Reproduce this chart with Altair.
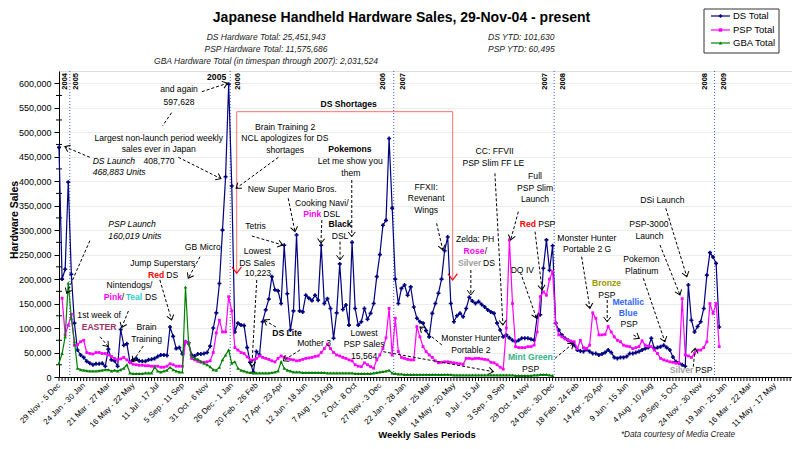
import json, math
import altair as alt
import pandas as pd

FONT = "Liberation Sans"
W, H = 733, 306
XMAX, YMAX = 237.6, 625.0

TICK_LABELS = ["29 Nov - 5 Dec", "24 Jan - 30 Jan", "21 Mar - 27 Mar", "16 May - 22 May",
               "11 Jul - 17 Jul", "5 Sep - 11 Sep", "31 Oct - 6 Nov", "26 Dec - 1 Jan",
               "20 Feb - 26 Feb", "17 Apr - 23 Apr", "12 Jun - 18 Jun", "7 Aug - 13 Aug",
               "2 Oct - 8 Oct", "27 Nov - 3 Dec", "22 Jan - 28 Jan", "19 Mar - 25 Mar",
               "14 May - 20 May", "9 Jul - 15 Jul", "3 Sep - 9 Sep", "29 Oct - 4 Nov",
               "24 Dec - 30 Dec", "18 Feb - 24 Feb", "14 Apr - 20 Apr", "9 Jun - 15 Jun",
               "4 Aug - 10 Aug", "29 Sep - 5 Oct", "24 Nov - 30 Nov", "19 Jan - 25 Jan",
               "16 Mar - 22 Mar", "11 May - 17 May"]
N_WEEKS = 239

# weekly sales, thousands of units (week index 0 = 29 Nov - 5 Dec 2004)
DS = [469, 200, 220, 398, 210, 110, 55, 45, 40, 32,
      28, 25, 27, 27, 28, 22, 57, 35, 33, 22,
      97, 65, 68, 30, 35, 38, 33, 32, 32, 35,
      36, 38, 42, 45, 45, 44, 102, 83, 58, 60,
      47, 72, 70, 45, 43, 47, 47, 48, 50, 63,
      100, 131, 191, 300, 409, 598, 390, 92, 110, 106,
      105, 60, 30, 10, 52, 45, 113, 137, 159, 205,
      178, 176, 150, 269, 170, 96, 135, 290, 135, 133,
      167, 161, 156, 167, 157, 269, 150, 160, 140, 79,
      131, 231, 138, 147, 106, 275, 140, 106, 113, 140,
      118, 130, 150, 205, 250, 310, 320, 487, 345, 200,
      150, 181, 188, 167, 184, 143, 120, 113, 110, 95,
      82, 130, 150, 171, 200, 258, 286, 150, 113, 125,
      130, 123, 140, 163, 155, 150, 154, 148, 143, 137,
      133, 130, 110, 96, 82, 86, 80, 75, 72, 75,
      79, 79, 79, 77, 75, 123, 127, 222, 280, 218,
      268, 110, 96, 86, 79, 75, 72, 65, 55, 53,
      52, 56, 52, 48, 48, 45, 47, 50, 55, 50,
      40, 38, 40, 40, 42, 48, 48, 50, 52, 55,
      58, 60, 79, 58, 60, 62, 65, 60, 55, 41,
      31, 28, 25, 22, 188, 116, 92, 103, 113, 140,
      208, 254, 245, 232, 102]
PSP = [None, 161, 86, 106, 128, 65, 66, 72, 75, 50,
       48, 47, 50, 50, 48, 48, 45, 42, 38, 35,
       37, 40, 35, 30, 26, 25, 24, 24, 23, 23,
       22, 22, 22, 20, 20, 22, 27, 25, 22, 22,
       22, 72, 69, 38, 35, 32, 30, 30, 31, 33,
       50, 90, 116, 92, 92, 164, 135, 60, 55, 50,
       48, 41, 35, 35, 38, 43, 40, 38, 36, 33,
       31, 38, 43, 40, 38, 36, 35, 33, 34, 36,
       38, 39, 40, 42, 43, 50, 58, 67, 58, 50,
       45, 43, 40, 38, 35, 33, 25, 22, 21, 29,
       25, 21, 18, 35, 45, 58, 80, 140, 45, 120,
       52, 40, 38, 36, 35, 35, 103, 82, 62, 52,
       45, 40, 33, 29, 30, 31, 31, 30, 29, 28,
       27, 26, 38, 38, 37, 38, 38, 37, 36, 35,
       30, 29, 25, 20, 16, 100, 280, 150, 62, 60,
       60, 60, 62, 62, 65, 92, 164, 174, 167, 200,
       215, 110, 86, 82, 78, 75, 73, 72, 58, 75,
       60, 58, 65, 131, 120, 86, 86, 87, 103, 92,
       82, 75, 72, 65, 63, 62, 58, 60, 62, 74,
       65, 63, 62, 55, 48, 38, 35, 33, 31, 30,
       28, 28, 160, 45, 43, 40, 48, 55, 55, 60,
       72, 150, 130, 150, 62]
GBA = [28, 48, 82, 192, 120, 72, 18, 15, 14, 13,
       12, 12, 12, 13, 14, 15, 15, 12, 14, 12,
       15, 18, 25, 8, 7, 7, 7, 7, 8, 8,
       8, 20, 12, 10, 12, 14, 20, 15, 12, 10,
       10, 184, 69, 43, 38, 36, 32, 28, 25, 21,
       15, 14, 20, 35, 45, 55, 28, 31, 18, 14,
       12, 10, 9, 8, 8, 8, 8, 8, 8, 9,
       10, 12, 31, 18, 14, 12, 10, 10, 10, 9,
       9, 9, 9, 9, 9, 9, 9, 8, 8, 8,
       8, 8, 8, 8, 8, 8, 7, 7, 7, 7,
       7, 7, 8, 9, 10, 11, 12, 14, 8, 7,
       6, 6, 5, 5,
       5, 5, 5, 5, 5, 5, 5, 5, 5, 5,
       5, 5, 5, 5, 4, 4, 4, 4, 4, 4,
       4, 4, 4, 4, 4, 4, 4, 4, 4, 4,
       4, 4, 4, 4, 3, 3, 3, 3, 3, 3,
       4, 4, 5, 5, 5, 4, 3]

SERIES = ["DS Total", "PSP Total", "GBA Total"]
COLORS = ["#000080", "#FF00FF", "#008000"]

YEAR_DIVIDERS = [3.5, 55.5, 108.5, 160.5, 212.5]
YEAR_LABELS = [(1.95, "2004"), (5.5, "2005"), (58.1, "2006"), (105.1, "2006"), (111.6, "2007"),
               (157.5, "2007"), (163.5, "2008"), (209.4, "2008"), (215.6, "2009")]

# annotation texts: (week index, value k, text, weight, color)
ANNOT = [
    (38.9, 587.6, "and again", "normal", "black"),
    (38.9, 562.3, "597,628", "normal", "black"),
    (32.35, 488.8, "Largest non-launch period weekly", "normal", "black"),
    (32.35, 465.1, "sales ever in Japan", "normal", "black"),
    (32.4, 441.8, "408,770", "normal", "black"),
    (46.6, 266.1, "GB Micro", "normal", "black"),
    (33.6, 232.2, "Jump Superstars", "normal", "black"),
    (31.5, 208.3, "Red", "bold", "#FF0000"),
    (36.7, 208.3, "DS", "normal", "black"),
    (22.85, 187.9, "Nintendogs/", "normal", "black"),
    (17.47, 164.0, "Pink", "bold", "#FF00FF"),
    (20.7, 164.0, "/", "normal", "black"),
    (24.3, 164.0, "Teal", "bold", "#33CCCC"),
    (29.8, 164.0, "DS", "normal", "black"),
    (13.0, 126.6, "1st week of", "normal", "black"),
    (13.0, 102.7, "EASTER", "bold", "#993366"),
    (28.4, 101.5, "Brain", "normal", "black"),
    (28.4, 77.0, "Training", "normal", "black"),
    (51.1, 613.4, "2005", "bold", "black"),
    (73.3, 511.2, "Brain Training 2", "normal", "black"),
    (73.2, 487.5, "NCL apologizes for DS", "normal", "black"),
    (73.3, 463.6, "shortages", "normal", "black"),
    (75.6, 383.4, "New Super Mario Bros.", "normal", "black"),
    (63.7, 309.0, "Tetris", "normal", "black"),
    (64.3, 258.0, "Lowest", "normal", "black"),
    (64.2, 233.5, "DS Sales", "normal", "black"),
    (64.5, 211.8, "10,223", "normal", "black"),
    (85.2, 356.0, "Cooking Navi/", "normal", "black"),
    (82.1, 332.3, "Pink", "bold", "#FF00FF"),
    (88.4, 332.3, "DSL", "normal", "black"),
    (91.1, 311.9, "Black", "bold", "black"),
    (91.1, 288.0, "DSL", "normal", "black"),
    (94.3, 465.1, "Pokemons", "bold", "black"),
    (94.4, 441.2, "Let me show you", "normal", "black"),
    (94.6, 417.3, "them", "normal", "black"),
    (93.9, 557.0, "DS Shortages", "bold", "black"),
    (119.0, 388.7, "FFXII:", "normal", "black"),
    (119.0, 365.0, "Revenant", "normal", "black"),
    (119.0, 341.1, "Wings", "normal", "black"),
    (134.9, 281.3, "Zelda: PH", "normal", "black"),
    (134.5, 257.4, "Rose", "bold", "#FF00FF"),
    (138.4, 257.4, "/", "normal", "black"),
    (133.1, 233.5, "Silver", "bold", "#A0A0A0"),
    (139.4, 233.5, "DS", "normal", "black"),
    (141.2, 461.6, "CC: FFVII", "normal", "black"),
    (140.8, 436.5, "PSP Slim FF LE", "normal", "black"),
    (154.3, 410.5, "Full", "normal", "black"),
    (154.3, 386.6, "PSP Slim", "normal", "black"),
    (154.3, 363.0, "Launch", "normal", "black"),
    (152.0, 312.5, "Red", "bold", "#FF0000"),
    (158.1, 312.5, "PSP", "normal", "black"),
    (150.2, 218.5, "DQ IV", "normal", "black"),
    (171.1, 284.5, "Monster Hunter", "normal", "black"),
    (171.2, 260.8, "Portable 2 G", "normal", "black"),
    (188.8, 240.4, "Pokemon", "normal", "black"),
    (188.9, 217.1, "Platinum", "normal", "black"),
    (191.2, 312.5, "PSP-3000", "normal", "black"),
    (191.4, 288.6, "Launch", "normal", "black"),
    (195.6, 361.5, "DSi Launch", "normal", "black"),
    (177.5, 191.4, "Bronze", "bold", "#999900"),
    (177.6, 167.5, "PSP", "normal", "black"),
    (184.5, 153.8, "Metallic", "bold", "#3366FF"),
    (184.5, 130.1, "Blue", "bold", "#3366FF"),
    (184.8, 107.6, "PSP", "normal", "black"),
    (152.8, 40.2, "Mint Green", "bold", "#33B38A"),
    (152.9, 16.3, "PSP", "normal", "black"),
    (201.8, 14.3, "Silver", "bold", "#A0A0A0"),
    (209.0, 14.3, "PSP", "normal", "black"),
    (73.9, 89.3, "DS Lite", "bold", "black"),
    (82.7, 70.1, "Mother 3", "normal", "black"),
    (98.9, 90.5, "Lowest", "normal", "black"),
    (98.9, 66.8, "PSP Sales", "normal", "black"),
    (98.9, 42.9, "15,564", "normal", "black"),
    (133.5, 79.0, "Monster Hunter", "normal", "black"),
    (133.5, 55.1, "Portable 2", "normal", "black"),
]
ITALIC = [
    (10.9, 441.8, "DS Launch"),
    (10.9, 419.3, "468,883 Units"),
    (16.0, 311.9, "PSP Launch"),
    (16.0, 288.0, "160,019 Units"),
]
# dashed pointer arrows: (from idx, from k, to idx, to k, arrowhead)
ARROWS = [
    (46.3, 582.7, 54.6, 600.0, 1), (36.5, 539.8, 33.6, 513.3, 0),
    (38.7, 448.7, 52.5, 405.0, 1), (10.0, 448.7, 1.9, 470.4, 1),
    (10.0, 278.4, 2.5, 171.0, 1), (45.7, 245.7, 41.9, 201.6, 1),
    (32.7, 198.1, 36.5, 116.4, 1), (22.5, 134.8, 20.3, 101.1, 1),
    (13.3, 82.3, 16.0, 61.9, 1), (27.3, 63.3, 23.9, 31.2, 1),
    (71.1, 448.7, 57.4, 385.4, 1), (74.3, 365.0, 76.5, 296.8, 1),
    (62.5, 288.0, 72.5, 269.6, 1), (64.1, 198.1, 62.5, 21.0, 1),
    (85.2, 320.7, 84.9, 273.1, 1), (91.1, 276.4, 91.1, 239.0, 1),
    (94.9, 402.4, 94.9, 286.6, 1), (122.4, 313.9, 124.4, 259.4, 1),
    (133.5, 218.5, 133.5, 167.5, 1), (141.3, 416.0, 143.9, 106.2, 1),
    (148.9, 337.6, 146.4, 279.8, 1), (154.3, 296.8, 156.6, 177.7, 1),
    (150.1, 204.3, 154.8, 119.9, 1), (169.4, 245.7, 172.1, 140.3, 1),
    (177.7, 157.3, 177.7, 112.9, 1), (186.2, 85.8, 188.1, 79.0, 1),
    (160.8, 38.2, 166.7, 68.8, 1), (189.4, 201.6, 196.4, 72.1, 1),
    (194.8, 269.6, 201.3, 167.5, 1), (196.7, 344.6, 203.5, 204.9, 1),
    (205.6, 21.0, 206.2, 58.6, 1), (70.3, 102.1, 66.5, 116.4, 1),
    (78.1, 55.1, 72.7, 33.3, 1), (105.1, 51.7, 140.8, 10.8, 1),
    (124.1, 65.4, 117.0, 102.1, 1),
]
# DS shortages bracket
BRACKET = [(57.6, 541.9, 127.6, 541.9, 0), (57.6, 541.9, 57.6, 211.8, 1),
           (127.6, 541.9, 127.6, 198.1, 1)]

PX_X = W / XMAX
PX_Y = H / YMAX

XS = alt.Scale(domain=[0, XMAX], nice=False, zero=False)
YS = alt.Scale(domain=[0, YMAX], nice=False, zero=False)

label_expr = json.dumps(TICK_LABELS) + "[round(datum.value / 8)]"
X_AXIS = alt.Axis(values=list(range(0, 233, 8)), labelExpr=label_expr, labelAngle=-45,
                  labelAlign="right", labelBaseline="middle", labelFontSize=8,
                  labelFont=FONT, labelColor="black", labelPadding=7, ticks=False,
                  domainColor="black", domainWidth=1, grid=False, title=None,
                  labelOverlap=False, labelFlush=False)
Y_AXIS = alt.Axis(values=list(range(0, 601, 50)),
                  labelExpr="format(datum.value * 1000, ',')",
                  labelFontSize=9, labelFont=FONT, labelColor="black", labelPadding=3,
                  tickColor="black", tickSize=5, domainColor="black", domainWidth=1,
                  grid=True, gridColor="#EDEDED", gridWidth=1, title=None)


def xq(f):
    return alt.X(f"{f}:Q", scale=XS, axis=X_AXIS)


def yq(f):
    return alt.Y(f"{f}:Q", scale=YS, axis=Y_AXIS)


def series_df(vals):
    rows = [{"idx": i, "k": v} for i, v in enumerate(vals) if v is not None]
    return pd.DataFrame(rows)


ds_df, psp_df, gba_df = series_df(DS), series_df(PSP), series_df(GBA)

# category tick marks under the x axis and minor y ticks
cat_ticks = alt.Chart(pd.DataFrame({"idx": list(range(N_WEEKS))})).mark_rule(
    color="black", strokeWidth=1).encode(x=xq("idx"), y=alt.value(H), y2=alt.value(H + 4))
minor = alt.Chart(pd.DataFrame({"k": list(range(25, 600, 50))})).mark_rule(
    color="black", strokeWidth=1).encode(y=yq("k"), x=alt.value(-3), x2=alt.value(3))

dividers = alt.Chart(pd.DataFrame({"idx": YEAR_DIVIDERS})).mark_rule(
    color="#3A5FEF", strokeWidth=1, strokeDash=[1, 2]).encode(x=xq("idx"))
year_lbl = alt.Chart(pd.DataFrame([{"idx": a, "k": 620.9, "t": t} for a, t in YEAR_LABELS])).mark_text(
    angle=270, align="right", baseline="middle", font=FONT, fontSize=7.5, fontWeight="bold",
    color="black").encode(x=xq("idx"), y=yq("k"), text="t:N")


def series_layers(df, color, shape, size):
    line = alt.Chart(df).mark_line(color=color, strokeWidth=1.2).encode(x=xq("idx"), y=yq("k"))
    pts = alt.Chart(df).mark_point(color=color, filled=True, shape=shape, size=size,
                                   opacity=1).encode(x=xq("idx"), y=yq("k"))
    return [line, pts]


ds_l = series_layers(ds_df, COLORS[0], "cross", 16)
psp_l = series_layers(psp_df, COLORS[1], "square", 8)
gba_l = series_layers(gba_df, COLORS[2], "triangle-up", 12)

# annotations
ann_df = pd.DataFrame([{"idx": a, "k": b, "t": t, "w": w, "c": c} for a, b, t, w, c in ANNOT])
ann_n = alt.Chart(ann_df[ann_df.w == "normal"]).mark_text(
    font=FONT, fontSize=8.6, align="center", baseline="middle").encode(
    x=xq("idx"), y=yq("k"), text="t:N", color=alt.Color("c:N", scale=None))
ann_b = alt.Chart(ann_df[ann_df.w == "bold"]).mark_text(
    font=FONT, fontSize=8.6, fontWeight="bold", align="center", baseline="middle").encode(
    x=xq("idx"), y=yq("k"), text="t:N", color=alt.Color("c:N", scale=None))
ann_i = alt.Chart(pd.DataFrame([{"idx": a, "k": b, "t": t} for a, b, t in ITALIC])).mark_text(
    font=FONT, fontSize=8.6, fontStyle="italic", align="left", baseline="middle",
    color="black").encode(x=xq("idx"), y=yq("k"), text="t:N")


def arrow_df(lst):
    rows = []
    for x0, y0, x1, y1, head in lst:
        dx = (x1 - x0) * PX_X
        dy = -(y1 - y0) * PX_Y
        ang = math.degrees(math.atan2(dy, dx)) % 360
        rows.append({"x0": x0, "y0": y0, "x1": x1, "y1": y1, "head": head, "ang": ang})
    return pd.DataFrame(rows)


arr = arrow_df(ARROWS)
shafts = alt.Chart(arr).mark_rule(color="black", strokeWidth=1, strokeDash=[3, 2]).encode(
    x=xq("x0"), x2="x1", y=yq("y0"), y2="y1")
VHEAD = "M-1,-0.75L0,0L-1,0.75"
heads = alt.Chart(arr[arr["head"] == 1]).mark_point(
    shape=VHEAD, filled=False, color="black", strokeWidth=1, size=90, opacity=1).encode(
    x=xq("x1"), y=yq("y1"), angle=alt.Angle("ang:Q", scale=None))

br = arrow_df(BRACKET)
br_lines = alt.Chart(br).mark_rule(color="#FF7070", strokeWidth=1).encode(
    x=xq("x0"), x2="x1", y=yq("y0"), y2="y1")
br_heads = alt.Chart(br[br["head"] == 1]).mark_point(
    shape=VHEAD, filled=False, color="#FF0000", strokeWidth=1.2, size=160, opacity=1).encode(
    x=xq("x1"), y=yq("y1"), angle=alt.Angle("ang:Q", scale=None))


# page texts (pixel positions relative to plot origin)
def ptext(rows, **kw):
    df = pd.DataFrame(rows, columns=["px", "py", "t"])
    return alt.Chart(df).mark_text(font=FONT, **kw).encode(
        x=alt.X("px:Q", scale=None), y=alt.Y("py:Q", scale=None), text="t:N")


title = ptext([(342.5, -53, "Japanese Handheld Hardware Sales, 29-Nov-04 - present")],
              fontSize=14, fontWeight="bold", color="black", align="center", baseline="middle")
subs = ptext([(207, -34, "DS Hardware Total:  25,451,943"),
              (207, -22, "PSP Hardware Total:  11,575,686"),
              (207, -10, "GBA Hardware Total (in timespan through 2007): 2,031,524")],
             fontSize=8.5, fontStyle="italic", color="#222222", align="center", baseline="middle")
ytd = ptext([(429, -34, "DS YTD:  101,630"), (429, -22, "PSP YTD:  60,495")],
            fontSize=8.5, fontStyle="italic", color="#222222", align="left", baseline="middle")
ytitle = ptext([(-44, 149, "Hardware Sales")], fontSize=10.5, fontWeight="bold",
               color="black", align="center", baseline="middle", angle=270)
xtitle = ptext([(368, 364, "Weekly Sales Periods")], fontSize=9.5, fontWeight="bold",
               color="black", align="center", baseline="middle")
foot = ptext([(619, 364, "*Data courtesy of Media Create")], fontSize=8.2,
             fontStyle="italic", color="#222222", align="center", baseline="middle")

# legend
leg_df = pd.DataFrame({"series": SERIES, "ly": [-55, -41, -28]})
cscale = alt.Scale(domain=SERIES, range=COLORS)
shape_scale = alt.Scale(domain=SERIES, range=["cross", "square", "triangle-up"])
leg_box = alt.Chart(pd.DataFrame({"a": [0]})).mark_rect(
    fill="white", stroke="#333333", strokeWidth=1).encode(
    x=alt.value(645), x2=alt.value(720), y=alt.value(-62), y2=alt.value(-18))
leg_lines = alt.Chart(leg_df).mark_rule(strokeWidth=1.2).encode(
    x=alt.value(652), x2=alt.value(671), y=alt.Y("ly:Q", scale=None),
    color=alt.Color("series:N", scale=cscale, legend=None))
leg_pts = alt.Chart(leg_df).mark_point(filled=True, size=12, opacity=1).encode(
    x=alt.value(661.5), y=alt.Y("ly:Q", scale=None),
    color=alt.Color("series:N", scale=cscale, legend=None),
    shape=alt.Shape("series:N", scale=shape_scale, legend=None))
leg_txt = alt.Chart(leg_df).mark_text(font=FONT, fontSize=9.5, align="left",
                                      baseline="middle", color="black").encode(
    x=alt.value(674), y=alt.Y("ly:Q", scale=None), text="series:N")

chart = alt.layer(
    cat_ticks, minor, dividers, year_lbl,
    *ds_l, *psp_l, *gba_l,
    br_lines, br_heads, shafts, heads, ann_n, ann_b, ann_i,
    title, subs, ytd, ytitle, xtitle, foot,
    leg_box, leg_lines, leg_pts, leg_txt,
).properties(
    width=W, height=H,
    autosize=alt.AutoSizeParams(type="none"),
    padding={"left": 51, "top": 63, "right": 0, "bottom": 64},
).configure_view(fill="#C0C0C0", stroke="#808080", strokeWidth=1
).configure(background="white")

chart.save("out.html", embed_options={"renderer": "svg", "actions": False})
